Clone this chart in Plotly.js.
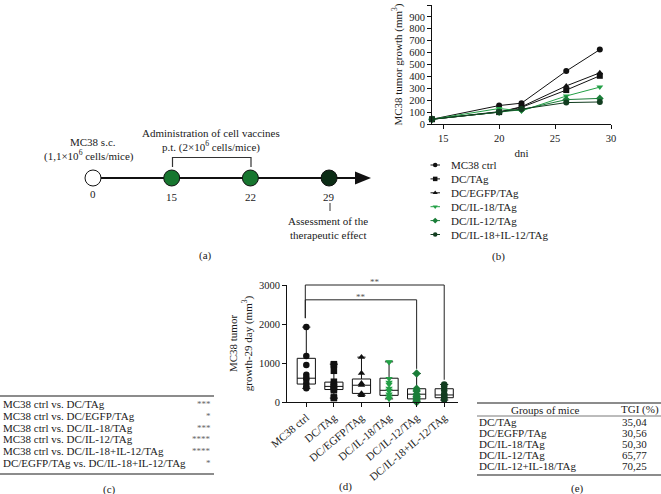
<!DOCTYPE html>
<html>
<head>
<meta charset="utf-8">
<script src="https://cdn.plot.ly/plotly-3.0.1.min.js"></script>
<style>html,body{margin:0;padding:0;background:#fff;}#chart{width:661px;height:494px;}</style>
</head>
<body>
<div id="chart"></div>
<script>
// ---------- DATA ----------
// (a) timeline
const timelineDays = ['0', '15', '22', '29'];
const timelineFill = ['#ffffff', '#17762f', '#17762f', '#0c2c15'];

// (b) tumor growth curves
const dayPoints = [14, 20, 22, 26, 29];
const seriesNames = ['MC38 ctrl', 'DC/TAg', 'DC/EGFP/TAg', 'DC/IL-18/TAg', 'DC/IL-12/TAg', 'DC/IL-18+IL-12/TAg'];
const growthCtrl   = [40, 155, 175, 445, 625];
const growthTAg    = [40, 100, 140, 285, 405];
const growthEGFP   = [40, 100, 145, 320, 430];
const growthIL18   = [40, 130, 110, 235, 310];
const growthIL12   = [40, 100, 120, 205, 215];
const growthCombo  = [40, 100, 125, 180, 185];
const seriesColors = ['#111111', '#111111', '#111111', '#23a046', '#1a7d38', '#123d20'];
const seriesSymbols = ['circle', 'square', 'triangle-up', 'triangle-down', 'diamond', 'circle'];

// (d) day-29 box plot
const boxQ1     = [460, 320, 220, 170, 80, 110];
const boxMedian = [610, 400, 430, 300, 200, 180];
const boxQ3     = [1120, 510, 590, 610, 340, 340];
const boxMin    = [350, 100, 170, 80, 0, 50];
const boxMax    = [1920, 970, 1150, 1030, 730, 450];
const ptsCtrl  = [1920, 1180, 950, 700, 620, 580, 480, 400, 350];
const ptsTAg   = [970, 950, 800, 520, 450, 400, 380, 330, 300, 120, 100];
const ptsEGFP  = [1150, 740, 480, 430, 220, 170];
const ptsIL18  = [1030, 1020, 600, 500, 450, 350, 300, 280, 200, 150, 100, 80];
const ptsIL12  = [730, 340, 280, 200, 150, 100, 50, 0];
const ptsCombo = [450, 400, 300, 200, 180, 120, 100, 60];
const sigFrom  = [0, 0];
const sigTo    = [4, 5];
const sigLevel = [2620, 3000];
const sigText  = ['**', '**'];

// (c) statistics table
const compLabels = ['MC38 ctrl vs. DC/TAg', 'MC38 ctrl vs. DC/EGFP/TAg', 'MC38 ctrl vs. DC/IL-18/TAg',
  'MC38 ctrl vs. DC/IL-12/TAg', 'MC38 ctrl vs. DC/IL-18+IL-12/TAg', 'DC/EGFP/TAg vs. DC/IL-18+IL-12/TAg'];
const compStars = ['***', '*', '***', '****', '****', '*'];

// (e) TGI table
const tgiGroups = ['DC/TAg', 'DC/EGFP/TAg', 'DC/IL-18/TAg', 'DC/IL-12/TAg', 'DC/IL-12+IL-18/TAg'];
const tgiValues = ['35,04', '30,56', '50,30', '65,77', '70,25'];

// ---------- HELPERS ----------
const W = 661, H = 494;
const PX = x => x / W;
const PY = y => 1 - y / H;
const FONT = 'Liberation Serif, Times New Roman, serif';
const TXT = '#1a1a1a';

// panel (d) geometry for converting to paper
const dX0 = 287, dX1 = 458, dRange = [-0.7, 5.5];
const dY0 = 402, dY1 = 285, dYmax = 3000;
const dCatPx = i => dX0 + (i - dRange[0]) * (dX1 - dX0) / (dRange[1] - dRange[0]);
const dValPy = v => dY0 - v * (dY0 - dY1) / dYmax;

// ---------- TRACES ----------
const traces = [];

// (a) timeline markers on index axis
traces.push({
  x: timelineDays.map((d, i) => i), y: timelineDays.map(() => 0),
  xaxis: 'x3', yaxis: 'y3', mode: 'markers', type: 'scatter', showlegend: false,
  marker: {size: 16, color: timelineFill, line: {color: '#111', width: 1}},
  hoverinfo: 'skip', cliponaxis: false
});

// (b) growth lines
const growth = [growthCtrl, growthTAg, growthEGFP, growthIL18, growthIL12, growthCombo];
growth.forEach((g, i) => {
  traces.push({
    x: dayPoints, y: g, type: 'scatter', mode: 'lines+markers', name: seriesNames[i],
    xaxis: 'x', yaxis: 'y', showlegend: false, cliponaxis: false,
    line: {color: seriesColors[i], width: 1},
    marker: {symbol: seriesSymbols[i], size: 6, color: seriesColors[i]}
  });
});

// (b) legend samples on overlay pixel axis
const legY0 = 165, legDy = 13.9;
seriesNames.forEach((n, i) => {
  traces.push({
    x: [430.5, 440], y: [legY0 + i * legDy, legY0 + i * legDy], xaxis: 'x4', yaxis: 'y4',
    type: 'scatter', mode: 'lines', showlegend: false, hoverinfo: 'skip',
    line: {color: seriesColors[i], width: 1}
  });
  traces.push({
    x: [435.2], y: [legY0 + i * legDy], xaxis: 'x4', yaxis: 'y4',
    type: 'scatter', mode: 'markers', showlegend: false, hoverinfo: 'skip',
    marker: {symbol: seriesSymbols[i], size: 4.5, color: seriesColors[i]}
  });
});

// (d) boxes
traces.push({
  type: 'box', x: seriesNames, q1: boxQ1, median: boxMedian, q3: boxQ3,
  lowerfence: boxMin, upperfence: boxMax, xaxis: 'x2', yaxis: 'y2',
  fillcolor: 'rgba(0,0,0,0)', line: {color: '#111', width: 1}, width: 0.66,
  whiskerwidth: 0.45, boxpoints: false, showlegend: false, hoverinfo: 'skip'
});
const pts = [ptsCtrl, ptsTAg, ptsEGFP, ptsIL18, ptsIL12, ptsCombo];
pts.forEach((p, i) => {
  traces.push({
    type: 'scatter', mode: 'markers', x: p.map(() => seriesNames[i]), y: p,
    xaxis: 'x2', yaxis: 'y2', showlegend: false, cliponaxis: false,
    marker: {symbol: seriesSymbols[i], size: 6.5, color: seriesColors[i]}
  });
});

// ---------- SHAPES & ANNOTATIONS ----------
const shapes = [];
const ann = [];
const lineCol = '#111';

// (a) timeline line and arrow
shapes.push({type: 'line', xref: 'paper', yref: 'paper', x0: PX(93), x1: PX(357), y0: PY(178), y1: PY(178),
  line: {color: lineCol, width: 2.2}, layer: 'below'});
shapes.push({type: 'path', xref: 'paper', yref: 'paper',
  path: `M ${PX(355)} ${PY(171.5)} L ${PX(371)} ${PY(178)} L ${PX(355)} ${PY(184.5)} Z`,
  fillcolor: lineCol, line: {color: lineCol, width: 0}});
// bracket for vaccines
shapes.push({type: 'path', xref: 'paper', yref: 'paper',
  path: `M ${PX(172.5)} ${PY(167)} L ${PX(172.5)} ${PY(157.5)} L ${PX(251)} ${PY(157.5)} L ${PX(251)} ${PY(167)}`,
  line: {color: '#333', width: 1.2}});
// tick under 29
shapes.push({type: 'line', xref: 'paper', yref: 'paper', x0: PX(330), x1: PX(330), y0: PY(203), y1: PY(211),
  line: {color: '#333', width: 1}});

const dayPx = [93, 171.7, 250.4, 329.1];
timelineDays.forEach((d, i) => {
  ann.push({xref: 'paper', yref: 'paper', x: PX(dayPx[i]), y: PY(i === 0 ? 194.5 : 196.5), text: d, showarrow: false,
    xanchor: 'center', yanchor: 'middle', font: {family: FONT, size: 11, color: TXT}});
});
const aText = [
  ['MC38 s.c.', 93, 141.5],
  ['(1,1×10<sup>6</sup> cells/mice)', 89, 155.5],
  ['Administration of cell vaccines', 211, 132.5],
  ['p.t. (2×10<sup>6</sup> cells/mice)', 211, 146.5],
  ['Assessment of the', 328, 220.5],
  ['therapeutic effect', 328, 234.5],
  ['(a)', 205.5, 255],
  ['(b)', 498, 256],
  ['(c)', 110, 489],
  ['(d)', 345, 486],
  ['(e)', 577, 488]
];
aText.forEach(t => ann.push({xref: 'paper', yref: 'paper', x: PX(t[1]), y: PY(t[2]), text: t[0], showarrow: false,
  xanchor: 'center', yanchor: 'middle', font: {family: FONT, size: 11, color: TXT}}));

// (b) legend text
seriesNames.forEach((n, i) => ann.push({xref: 'paper', yref: 'paper', x: PX(449), y: PY(legY0 + i * legDy),
  text: n, showarrow: false, xanchor: 'left', yanchor: 'middle', font: {family: FONT, size: 11, color: TXT}}));

// (d) significance brackets
sigFrom.forEach((f, k) => {
  const xa = dCatPx(sigFrom[k]), xb = dCatPx(sigTo[k]);
  const yl = dValPy(sigLevel[k]);
  const yLeft = dValPy(boxMax[sigFrom[k]] + 230);
  const yRight = dValPy(boxMax[sigTo[k]] + 120);
  shapes.push({type: 'path', xref: 'paper', yref: 'paper',
    path: `M ${PX(xa - 1)} ${PY(yLeft)} L ${PX(xa - 1)} ${PY(yl)} L ${PX(xb)} ${PY(yl)} L ${PX(xb)} ${PY(yRight)}`,
    line: {color: '#222', width: 1}});
  ann.push({xref: 'paper', yref: 'paper', x: PX((xa + xb) / 2), y: PY(yl - 3), text: sigText[k], showarrow: false,
    xanchor: 'center', yanchor: 'middle', font: {family: FONT, size: 9, color: '#555'}});
});

// (c) table
shapes.push({type: 'line', xref: 'paper', yref: 'paper', x0: 0, x1: PX(214), y0: PY(396), y1: PY(396), line: {color: '#666', width: 1.6}});
shapes.push({type: 'line', xref: 'paper', yref: 'paper', x0: 0, x1: PX(214), y0: PY(474), y1: PY(474), line: {color: '#666', width: 1.6}});
compLabels.forEach((c, i) => {
  const y = 404 + i * 11.8;
  ann.push({xref: 'paper', yref: 'paper', x: PX(0.5), y: PY(y), text: c, showarrow: false, xanchor: 'left', yanchor: 'middle',
    font: {family: FONT, size: 11, color: TXT}});
  ann.push({xref: 'paper', yref: 'paper', x: PX(213), y: PY(y), text: compStars[i], showarrow: false, xanchor: 'right', yanchor: 'middle',
    font: {family: FONT, size: 9, color: '#666'}});
});

// (e) table
shapes.push({type: 'line', xref: 'paper', yref: 'paper', x0: PX(477), x1: 1, y0: PY(403), y1: PY(403), line: {color: '#666', width: 1.6}});
shapes.push({type: 'line', xref: 'paper', yref: 'paper', x0: PX(477), x1: 1, y0: PY(416), y1: PY(416), line: {color: '#555', width: 0.8}});
shapes.push({type: 'line', xref: 'paper', yref: 'paper', x0: PX(477), x1: 1, y0: PY(475), y1: PY(475), line: {color: '#666', width: 1.6}});
ann.push({xref: 'paper', yref: 'paper', x: PX(545), y: PY(409.5), text: 'Groups of mice', showarrow: false, xanchor: 'center', yanchor: 'middle',
  font: {family: FONT, size: 11, color: TXT}});
ann.push({xref: 'paper', yref: 'paper', x: PX(661), y: PY(409.5), text: 'TGI (%)', showarrow: false, xanchor: 'right', yanchor: 'middle',
  font: {family: FONT, size: 11, color: TXT}});
tgiGroups.forEach((g, i) => {
  const y = 422 + i * 11;
  ann.push({xref: 'paper', yref: 'paper', x: PX(477), y: PY(y), text: g, showarrow: false, xanchor: 'left', yanchor: 'middle',
    font: {family: FONT, size: 11, color: TXT}});
  ann.push({xref: 'paper', yref: 'paper', x: PX(649), y: PY(y), text: tgiValues[i], showarrow: false, xanchor: 'right', yanchor: 'middle',
    font: {family: FONT, size: 11, color: TXT}});
});

// ---------- LAYOUT ----------
const axBase = {showgrid: false, zeroline: false, showline: true, linecolor: '#111', linewidth: 1,
  ticks: 'outside', ticklen: 4, tickwidth: 1, tickcolor: '#111',
  tickfont: {family: FONT, size: 10.5, color: TXT}};

const layout = {
  width: W, height: H, margin: {l: 0, r: 0, t: 0, b: 0},
  paper_bgcolor: '#fff', plot_bgcolor: 'rgba(0,0,0,0)', showlegend: false,
  font: {family: FONT, color: TXT},
  xaxis: Object.assign({}, axBase, {domain: [PX(432), PX(611)], range: [14, 30], tickvals: [15, 20, 25, 30],
    anchor: 'y', title: {text: 'dni', standoff: 6, font: {family: FONT, size: 11, color: TXT}}}),
  yaxis: Object.assign({}, axBase, {domain: [PY(124), PY(5)], range: [0, 1000], dtick: 100, anchor: 'x',
    title: {text: 'MC38 tumor growth (mm<sup>3</sup>)', standoff: 4, font: {family: FONT, size: 11, color: TXT}}}),
  xaxis2: Object.assign({}, axBase, {domain: [PX(dX0), PX(dX1)], type: 'category', range: dRange, tickangle: -40,
    anchor: 'y2', tickfont: {family: FONT, size: 11, color: TXT}}),
  yaxis2: Object.assign({}, axBase, {domain: [PY(dY0), PY(dY1)], range: [0, dYmax], dtick: 1000, anchor: 'x2',
    title: {text: 'MC38 tumor<br>growth-29 day (mm<sup>3</sup>)', standoff: 4, font: {family: FONT, size: 11, color: TXT}}}),
  xaxis3: {visible: false, domain: [0, 1], range: [-93 / 78.7, (661 - 93) / 78.7], anchor: 'y3', fixedrange: true},
  yaxis3: {visible: false, domain: [PY(198), PY(158)], range: [-1, 1], anchor: 'x3', fixedrange: true},
  xaxis4: {visible: false, domain: [0, 1], range: [0, W], anchor: 'y4'},
  yaxis4: {visible: false, domain: [0, 1], range: [H, 0], anchor: 'x4'},
  shapes: shapes, annotations: ann
};

Plotly.newPlot('chart', traces, layout, {staticPlot: true, displayModeBar: false});
</script>
</body>
</html>
